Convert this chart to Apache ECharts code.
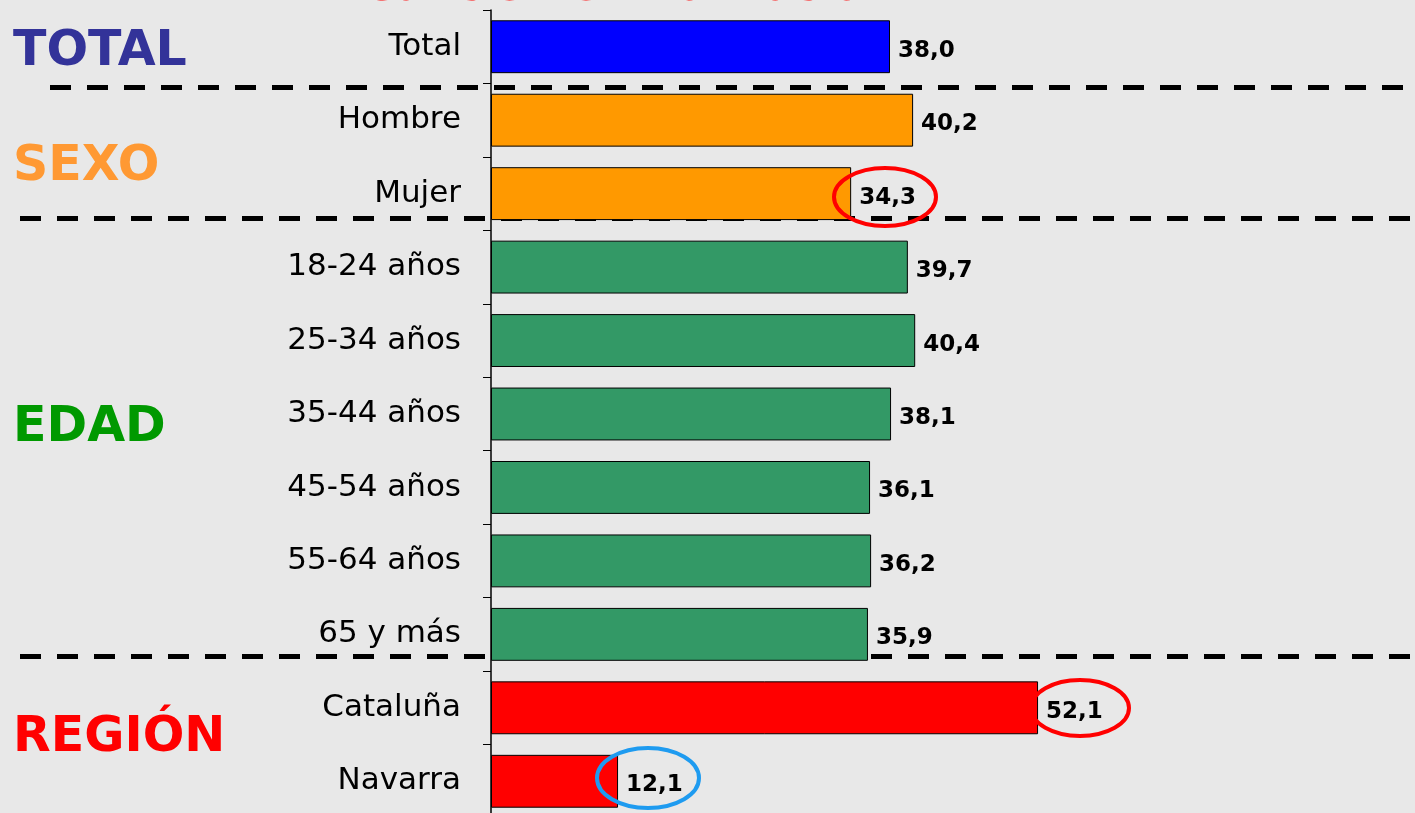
<!DOCTYPE html>
<html>
<head>
<meta charset="utf-8">
<script src="https://cdn.jsdelivr.net/npm/echarts@6/dist/echarts.min.js"></script>
<style>
html,body{margin:0;padding:0;background:#E8E8E8;}
#c{width:1415px;height:813px;}
</style>
</head>
<body>
<div id="c"></div>
<script>
const categories = ['Total','Hombre','Mujer','18-24 años','25-34 años','35-44 años','45-54 años','55-64 años','65 y más','Cataluña','Navarra'];
const values = [38.0,40.2,34.3,39.7,40.4,38.1,36.1,36.2,35.9,52.1,12.1];
const groupOf = ['TOTAL','SEXO','SEXO','EDAD','EDAD','EDAD','EDAD','EDAD','EDAD','REGIÓN','REGIÓN'];
const groupNames = ['TOTAL','SEXO','EDAD','REGIÓN'];
const groupColors = {TOTAL:'#0000FF', SEXO:'#FF9900', EDAD:'#339966', 'REGIÓN':'#FF0000'};
const groupTextColors = {TOTAL:'#333399', SEXO:'#FF9933', EDAD:'#009900', 'REGIÓN':'#FF0000'};
const titleText = 'suficiente información';

const chart = echarts.init(document.getElementById('c'), null, {renderer:'canvas'});

const groupLabelY = {TOTAL:52, SEXO:167, EDAD:428, 'REGIÓN':738};
const graphics = [];
graphics.push({type:'text', zlevel:2, z:100, style:{text:titleText, x:632, y:-11, fill:'#FF0000', font:'italic bold 41px "DejaVu Sans"', align:'center', verticalAlign:'middle'}});
groupNames.forEach(g => {
  graphics.push({type:'text', zlevel:2, z:100, style:{text:g, x:13, y:groupLabelY[g], fill:groupTextColors[g], font:'bold 49px "DejaVu Sans"', align:'left', verticalAlign:'middle'}});
});
const ellipses = [[885,197,51,29,'#FF0000'],[1080,708,49,28,'#FF0000'],[648,778,51,30,'#1E9BF0']];
ellipses.forEach(e => {
  graphics.push({type:'ellipse', zlevel:2, z:100, shape:{cx:e[0], cy:e[1], rx:e[2], ry:e[3]}, style:{fill:null, stroke:e[4], lineWidth:4}});
});
const dashLines = [[50,87,1415],[20,218,1415],[20,656,1410]];

chart.setOption({
  backgroundColor:'#E8E8E8',
  animation:false,
  grid:{left:491, top:10, width:924, height:808, containLabel:false, outerBoundsMode:'none'},
  xAxis:{type:'value', min:0, max:88, show:false, splitLine:{show:false}},
  yAxis:{type:'category', data:categories, inverse:true, zlevel:1,
    axisLine:{show:true, lineStyle:{color:'#000', width:1.5}},
    axisTick:{show:true, length:8, lineStyle:{color:'#000', width:1}},
    axisLabel:{margin:30, color:'#000', fontSize:31, fontFamily:'DejaVu Sans', padding:[7,0,0,0]}},
  series:[
    {type:'line', data:[], zlevel:0, z:1, silent:true,
      markLine:{zlevel:0, z:1, silent:true, symbol:'none', animation:false, label:{show:false},
        lineStyle:{color:'#000', width:5, type:[21,16]},
        data: dashLines.map(d => [{x:d[0], y:d[1]}, {x:d[2], y:d[1]}])}},
    {type:'bar', barCategoryGap:'28%', zlevel:1, z:10,
    data: values.map((v,i)=>({value:v, itemStyle:{color:groupColors[groupOf[i]]}})),
    itemStyle:{borderColor:'#000', borderWidth:1},
    label:{show:true, position:'right', distance:8, offset:[0,4], color:'#000', fontSize:23, fontWeight:'bold', fontFamily:'DejaVu Sans',
      formatter:p=>p.value.toFixed(1).replace('.',',')}
  }],
  graphic: graphics
});
</script>
</body>
</html>
